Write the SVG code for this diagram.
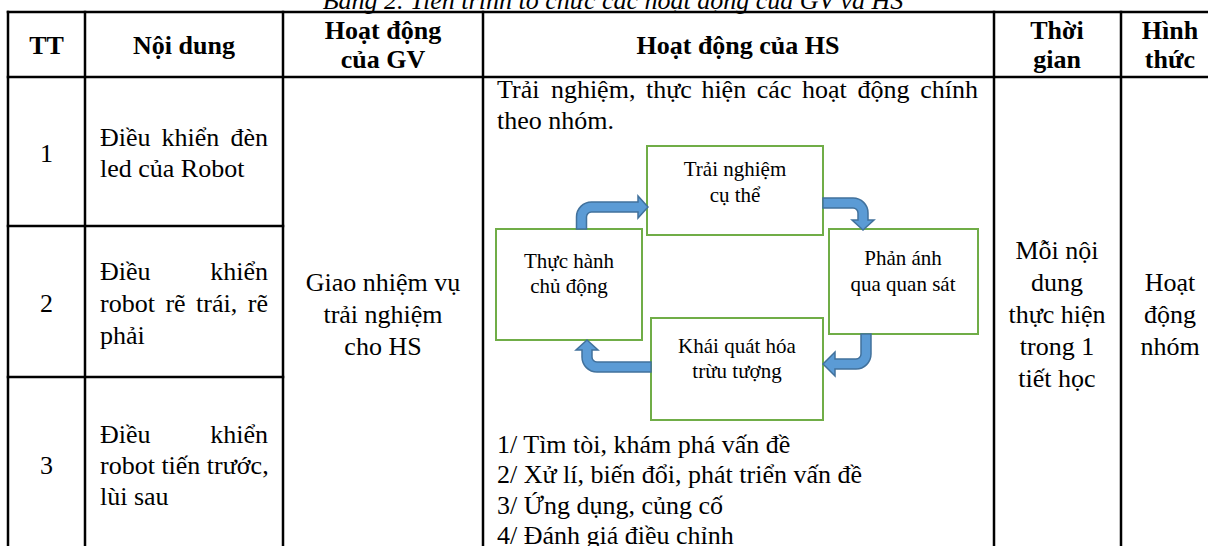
<svg xmlns="http://www.w3.org/2000/svg" width="1208" height="546" viewBox="0 0 1208 546">
<style>
.t{font-family:"Liberation Serif","Times New Roman",serif;font-size:26px;fill:#000}
.b{font-weight:bold}
.c{text-anchor:middle}
.e{text-anchor:end}
.cap{font-style:italic}
.bx{font-size:21px}
.grid line{stroke:#000;stroke-width:2.5}
.node rect{fill:#fff;stroke:#70AD47;stroke-width:2}
.arr{fill:#5B9BD5;stroke:#41719C;stroke-width:1.5;stroke-linejoin:miter}
</style>
<rect width="1208" height="546" fill="#fff"/>
<text class="t cap c" x="613" y="9">Bảng 2. Tiến trình tổ chức các hoạt động của GV và HS</text>
<g id="table" class="grid">
<line x1="6.75" y1="12" x2="1220" y2="12"/>
<line x1="6.75" y1="77" x2="1220" y2="77"/>
<line x1="6.75" y1="226" x2="284.25" y2="226"/>
<line x1="6.75" y1="377" x2="284.25" y2="377"/>
<line x1="8" y1="10.75" x2="8" y2="552"/>
<line x1="85" y1="10.75" x2="85" y2="552"/>
<line x1="283" y1="10.75" x2="283" y2="552"/>
<line x1="483" y1="10.75" x2="483" y2="552"/>
<line x1="994" y1="10.75" x2="994" y2="552"/>
<line x1="1121" y1="10.75" x2="1121" y2="552"/>
</g>
<g id="header">
<text class="t b c" x="46.5" y="54">TT</text>
<text class="t b c" x="184" y="54">Nội dung</text>
<text class="t b c" x="383" y="39">Hoạt động</text>
<text class="t b c" x="383" y="68">của GV</text>
<text class="t b c" x="738" y="54">Hoạt động của HS</text>
<text class="t b c" x="1057" y="39">Thời</text>
<text class="t b c" x="1057" y="68">gian</text>
<text class="t b c" x="1170" y="39">Hình</text>
<text class="t b c" x="1170" y="68">thức</text>
</g>
<g id="row1">
<text class="t c" x="46.5" y="162">1</text>
<text class="t" x="100" y="146">Điều</text>
<text class="t" x="161.6" y="146">khiển</text>
<text class="t e" x="268" y="146">đèn</text>
<text class="t" x="100" y="177">led của Robot</text>
</g>
<g id="row2">
<text class="t c" x="46.5" y="312">2</text>
<text class="t" x="100" y="280">Điều</text>
<text class="t e" x="268" y="280">khiển</text>
<text class="t" x="100" y="312">robot</text>
<text class="t" x="165.4" y="312">rẽ</text>
<text class="t" x="196.1" y="312">trái,</text>
<text class="t e" x="268" y="312">rẽ</text>
<text class="t" x="100" y="344">phải</text>
</g>
<g id="row3">
<text class="t c" x="46.5" y="474">3</text>
<text class="t" x="100" y="443">Điều</text>
<text class="t e" x="268" y="443">khiển</text>
<text class="t" x="100" y="474">robot tiến trước,</text>
<text class="t" x="100" y="505">lùi sau</text>
</g>
<g id="gv">
<text class="t c" x="383" y="291">Giao nhiệm vụ</text>
<text class="t c" x="383" y="323">trải nghiệm</text>
<text class="t c" x="383" y="355">cho HS</text>
</g>
<g id="hs-text">
<text class="t" x="497" y="98">Trải</text>
<text class="t" x="550.9" y="98">nghiệm,</text>
<text class="t" x="646" y="98">thực</text>
<text class="t" x="701.4" y="98">hiện</text>
<text class="t" x="756.8" y="98">các</text>
<text class="t" x="802" y="98">hoạt</text>
<text class="t" x="857.4" y="98">động</text>
<text class="t e" x="978" y="98">chính</text>
<text class="t" x="497" y="129">theo nhóm.</text>
<text class="t" x="497" y="453">1/ Tìm tòi, khám phá vấn đề</text>
<text class="t" x="497" y="483">2/ Xử lí, biến đổi, phát triển vấn đề</text>
<text class="t" x="497" y="514">3/ Ứng dụng, củng cố</text>
<text class="t" x="497" y="544">4/ Đánh giá điều chỉnh</text>
</g>
<g id="time">
<text class="t c" x="1057" y="259">Mỗi nội</text>
<text class="t c" x="1057" y="291">dung</text>
<text class="t c" x="1057" y="323">thực hiện</text>
<text class="t c" x="1057" y="355">trong 1</text>
<text class="t c" x="1057" y="387">tiết học</text>
</g>
<g id="form">
<text class="t c" x="1170" y="291">Hoạt</text>
<text class="t c" x="1170" y="323">động</text>
<text class="t c" x="1170" y="355">nhóm</text>
</g>
<g id="node-trai-nghiem" class="node">
<rect x="647" y="146" width="176" height="89"/>
<text class="t bx c" x="735" y="176">Trải nghiệm</text>
<text class="t bx c" x="735" y="202">cụ thể</text>
</g>
<g id="node-thuc-hanh" class="node">
<rect x="496" y="229" width="146" height="111"/>
<text class="t bx c" x="569" y="268">Thực hành</text>
<text class="t bx c" x="569" y="293">chủ động</text>
</g>
<g id="node-phan-anh" class="node">
<rect x="829" y="229" width="149" height="105"/>
<text class="t bx c" x="903" y="265">Phản ánh</text>
<text class="t bx c" x="903" y="291">qua quan sát</text>
</g>
<g id="node-khai-quat" class="node">
<rect x="651" y="318" width="172" height="102"/>
<text class="t bx c" x="737" y="353">Khái quát hóa</text>
<text class="t bx c" x="737" y="378">trừu tượng</text>
</g>
<g id="connectors">
<path class="arr" d="M576.5,229 V217 A15,15 0 0 1 591.5,202 H638 V196 L648,207 L638,218 V212 H591.5 A5,5 0 0 0 586.5,217 V229 Z"/>
<path class="arr" d="M823,198 H853 A15,15 0 0 1 868,213 V220 H874 L863,230 L852,220 H858 V213 A5,5 0 0 0 853,208 H823 Z"/>
<path class="arr" d="M861,334 H871 V354 A15,15 0 0 1 856,369 H835 V376 L823,364 L835,352 V359 H856 A5,5 0 0 0 861,354 V334 Z"/>
<path class="arr" d="M651,362 V372 H597 A15,15 0 0 1 582,357 V350 H576 L587,340 L598,350 H592 V357 A5,5 0 0 0 597,362 H651 Z"/>
</g>
</svg>
